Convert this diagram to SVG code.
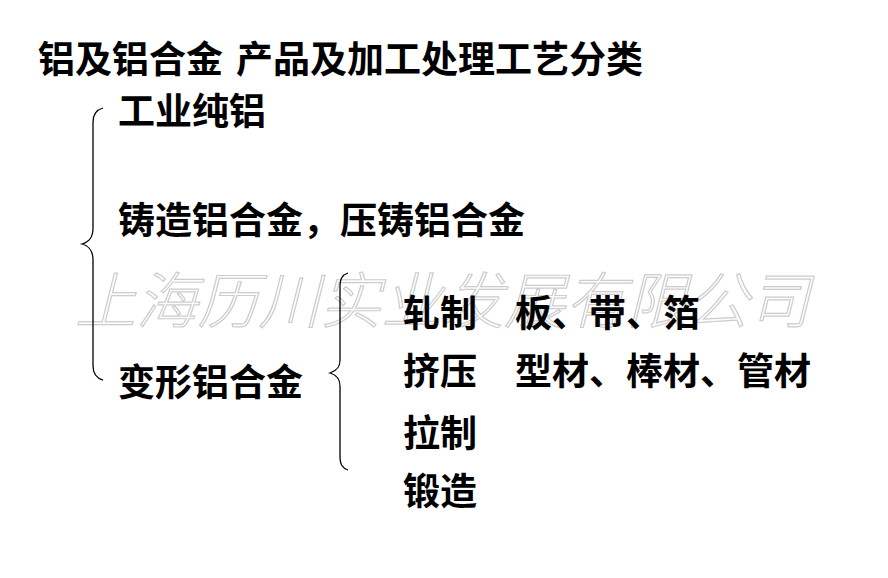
<svg xmlns="http://www.w3.org/2000/svg" width="888" height="578" viewBox="0 0 888 578">
<style>
.t{font-family:"Noto Sans CJK SC","Noto Sans CJK JP",sans-serif;font-weight:bold;font-size:37px;fill:#000}
.wm{font-family:"Noto Sans CJK SC",sans-serif;font-weight:300;font-size:61px;font-style:italic;fill:#fcfcfc;stroke:#cdcdcd;stroke-width:1.2}
.br{fill:none;stroke:#000;stroke-width:1.3}
</style>
<rect width="888" height="578" fill="#fff"/>
<g id="watermark"><text class="wm" x="75" y="323" textLength="735" lengthAdjust="spacing">上海历川实业发展有限公司</text></g>
<g id="title"><text class="t" x="38" y="73">铝及铝合金 <tspan x="236">产品及加工处理工艺分类</tspan></text></g>
<g id="connectors">
<path class="br" d="M103,108 C96,110 93,114 93,122 L93,228 C93,238 89,242 82,244 C89,246 93,250 93,260 L93,366 C93,374 96,378 103,380"/>
<path class="br" d="M348,273 C342,275 340,279 340,287 L340,360 C340,368 336,371 330,373 C336,375 340,378 340,386 L340,456 C340,464 342,468 348,470"/>
</g>
<g id="n1"><text class="t" x="118" y="125">工业纯铝</text></g>
<g id="n2"><text class="t" x="118" y="234">铸造铝合金，压铸铝合金</text></g>
<g id="n3"><text class="t" x="118" y="396">变形铝合金</text></g>
<g id="n4"><text class="t" x="403" y="327">轧制</text><text class="t" x="515" y="327">板、带、箔</text></g>
<g id="n5"><text class="t" x="403" y="385">挤压</text><text class="t" x="515" y="385">型材、棒材、管材</text></g>
<g id="n6"><text class="t" x="403" y="447">拉制</text></g>
<g id="n7"><text class="t" x="403" y="505">锻造</text></g>
</svg>
